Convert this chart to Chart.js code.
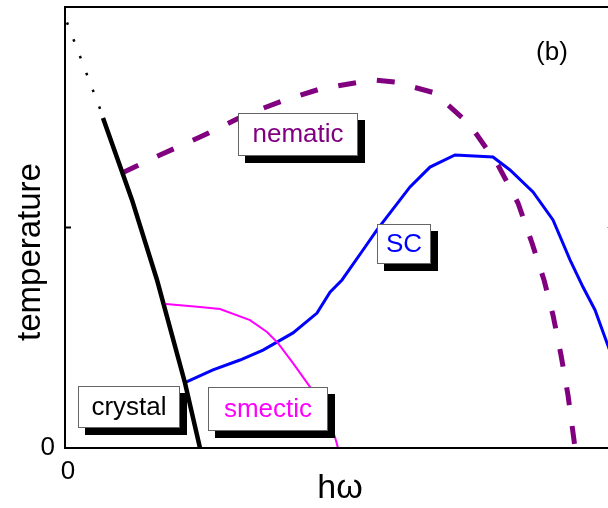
<!DOCTYPE html>
<html>
<head>
<meta charset="utf-8">
<script src="https://cdn.jsdelivr.net/npm/chart.js@4.4.1/dist/chart.umd.min.js"></script>
<style>
html, body { margin: 0; padding: 0; background: #fff; overflow: hidden; }
#wrap { width: 608px; height: 508px; overflow: hidden; }
</style>
</head>
<body>
<div id="wrap"><canvas id="phaseChart" width="620" height="508"></canvas></div>
<script>
// hw along x, temperature along y (arbitrary units, both start at 0)
const crystalDotX = [0.04, 0.74];
const crystalDotY = [1.93, 1.515];

const crystalX = [0.76, 1.34, 1.84, 2.40, 2.70];
const crystalY = [1.497, 1.125, 0.762, 0.295, 0];

const nematicX = [1.14, 1.90, 2.70, 3.60, 4.40, 5.10, 5.90, 6.20, 6.60, 7.40, 8.10, 8.66, 9.06, 9.34, 9.58, 9.76, 9.92, 10.06, 10.18, 10.20];
const nematicY = [1.247, 1.329, 1.410, 1.510, 1.578, 1.628, 1.660, 1.669, 1.660, 1.610, 1.465, 1.283, 1.111, 0.930, 0.762, 0.603, 0.422, 0.240, 0.036, 0];

const scX = [2.42, 2.96, 3.50, 3.96, 4.56, 5.04, 5.30, 5.54, 5.96, 6.24, 6.90, 7.30, 7.80, 8.56, 8.90, 9.36, 9.76, 10.10, 10.36, 10.60, 10.84, 10.98];
const scY = [0.299, 0.354, 0.399, 0.444, 0.522, 0.612, 0.707, 0.762, 0.898, 0.989, 1.184, 1.274, 1.329, 1.320, 1.261, 1.161, 1.034, 0.853, 0.730, 0.626, 0.476, 0.39];

const smecticX = [2.02, 2.70, 3.10, 3.70, 4.04, 4.26, 4.56, 4.90, 5.14, 5.40, 5.46];
const smecticY = [0.653, 0.639, 0.630, 0.580, 0.526, 0.476, 0.385, 0.277, 0.195, 0.050, 0];

const xTickValues = [0];
const yTickValues = [0, 1];

const toPoints = (xs, ys) => xs.map((v, i) => ({ x: v, y: ys[i] }));

const FONT = '"Liberation Sans", Arial, Helvetica, sans-serif';

// phase labels, anchored in data units
const phaseLabels = [
  { text: 'nematic', x: 4.66, y: 1.424, w: 120, h: 43, color: '#800080' },
  { text: 'SC', x: 6.78, y: 0.925, w: 54, h: 40, color: '#0000ff' },
  { text: 'crystal', x: 1.28, y: 0.186, w: 102, h: 42, color: '#000000' },
  { text: 'smectic', x: 4.06, y: 0.177, w: 120, h: 44, color: '#ff00ff' }
];

const decorations = {
  id: 'decorations',
  afterDatasetsDraw(chart) {
    const { ctx, chartArea: a, scales: { x, y } } = chart;
    ctx.save();

    // frame + inward ticks
    ctx.strokeStyle = '#000';
    ctx.lineWidth = 2;
    ctx.strokeRect(a.left, a.top, a.right - a.left, a.bottom - a.top);
    const ty = y.getPixelForValue(1);
    ctx.beginPath();
    ctx.moveTo(a.left, ty); ctx.lineTo(a.left + 6, ty);
    ctx.stroke();
    ctx.strokeStyle = '#aaa';
    ctx.lineWidth = 1;
    ctx.beginPath();
    ctx.moveTo(a.right, ty); ctx.lineTo(a.right - 8, ty);
    ctx.stroke();

    // boxed phase names with drop shadow
    ctx.font = '26px ' + FONT;
    ctx.textAlign = 'center';
    ctx.textBaseline = 'middle';
    phaseLabels.forEach(b => {
      const cx = x.getPixelForValue(b.x);
      const cy = y.getPixelForValue(b.y);
      const l = Math.round(cx - b.w / 2), t = Math.round(cy - b.h / 2);
      ctx.fillStyle = '#000';
      ctx.fillRect(l + 7, t + 7, b.w, b.h);
      ctx.fillStyle = '#fff';
      ctx.fillRect(l, t, b.w, b.h);
      ctx.strokeStyle = '#666';
      ctx.lineWidth = 1;
      ctx.strokeRect(l + 0.5, t + 0.5, b.w - 1, b.h - 1);
      ctx.fillStyle = b.color;
      ctx.fillText(b.text, cx, cy + 1);
    });

    // panel tag
    ctx.fillStyle = '#000';
    ctx.font = '26px ' + FONT;
    ctx.fillText('(b)', x.getPixelForValue(9.74), y.getPixelForValue(1.791));

    // axis titles
    ctx.font = '34px ' + FONT;
    ctx.textBaseline = 'alphabetic';
    ctx.fillText('h\u03c9', (a.left + a.right) / 2, 498);
    ctx.translate(40, 252);
    ctx.rotate(-Math.PI / 2);
    ctx.font = '33px ' + FONT;
    ctx.fillText('temperature', 0, 0);
    ctx.restore();
  }
};

const line = (data, color, width, dash) => ({
  data,
  borderColor: color,
  borderWidth: width,
  borderDash: dash || [],
  borderCapStyle: 'butt',
  pointRadius: 0,
  tension: 0,
  fill: false
});

new Chart(document.getElementById('phaseChart'), {
  type: 'line',
  data: {
    datasets: [
      line(toPoints(crystalDotX, crystalDotY), '#000', 2.5, [2.5, 15.5]),
      line(toPoints(crystalX, crystalY), '#000', 4.5),
      line(toPoints(smecticX, smecticY), '#ff00ff', 2),
      line(toPoints(scX, scY), '#0000ff', 3),
      line(toPoints(nematicX, nematicY), '#800080', 5, [18, 21])
    ]
  },
  options: {
    responsive: false,
    animation: false,
    devicePixelRatio: 1,
    layout: { padding: { top: 7, right: 5, left: 0, bottom: 0 } },
    plugins: { legend: { display: false }, tooltip: { enabled: false } },
    scales: {
      x: {
        type: 'linear',
        min: 0,
        max: 11,
        grid: { display: false, drawTicks: false },
        border: { display: false },
        afterBuildTicks: s => { s.ticks = xTickValues.map(v => ({ value: v })); },
        afterFit: s => { s.height = 60; s.paddingLeft = 0; s.paddingRight = 0; },
        ticks: { padding: 8, labelOffset: 3, color: '#000', font: { family: FONT, size: 26 }, maxRotation: 0 }
      },
      y: {
        type: 'linear',
        min: 0,
        max: 2,
        grid: { display: false, drawTicks: false },
        border: { display: false },
        afterBuildTicks: s => { s.ticks = yTickValues.map(v => ({ value: v })); },
        afterFit: s => { s.width = 65; s.paddingTop = 0; s.paddingBottom = 0; },
        ticks: { padding: 10, color: '#000', font: { family: FONT, size: 26 }, callback: v => (v === 0 ? '0' : '') }
      }
    }
  },
  plugins: [decorations]
});
</script>
</body>
</html>
